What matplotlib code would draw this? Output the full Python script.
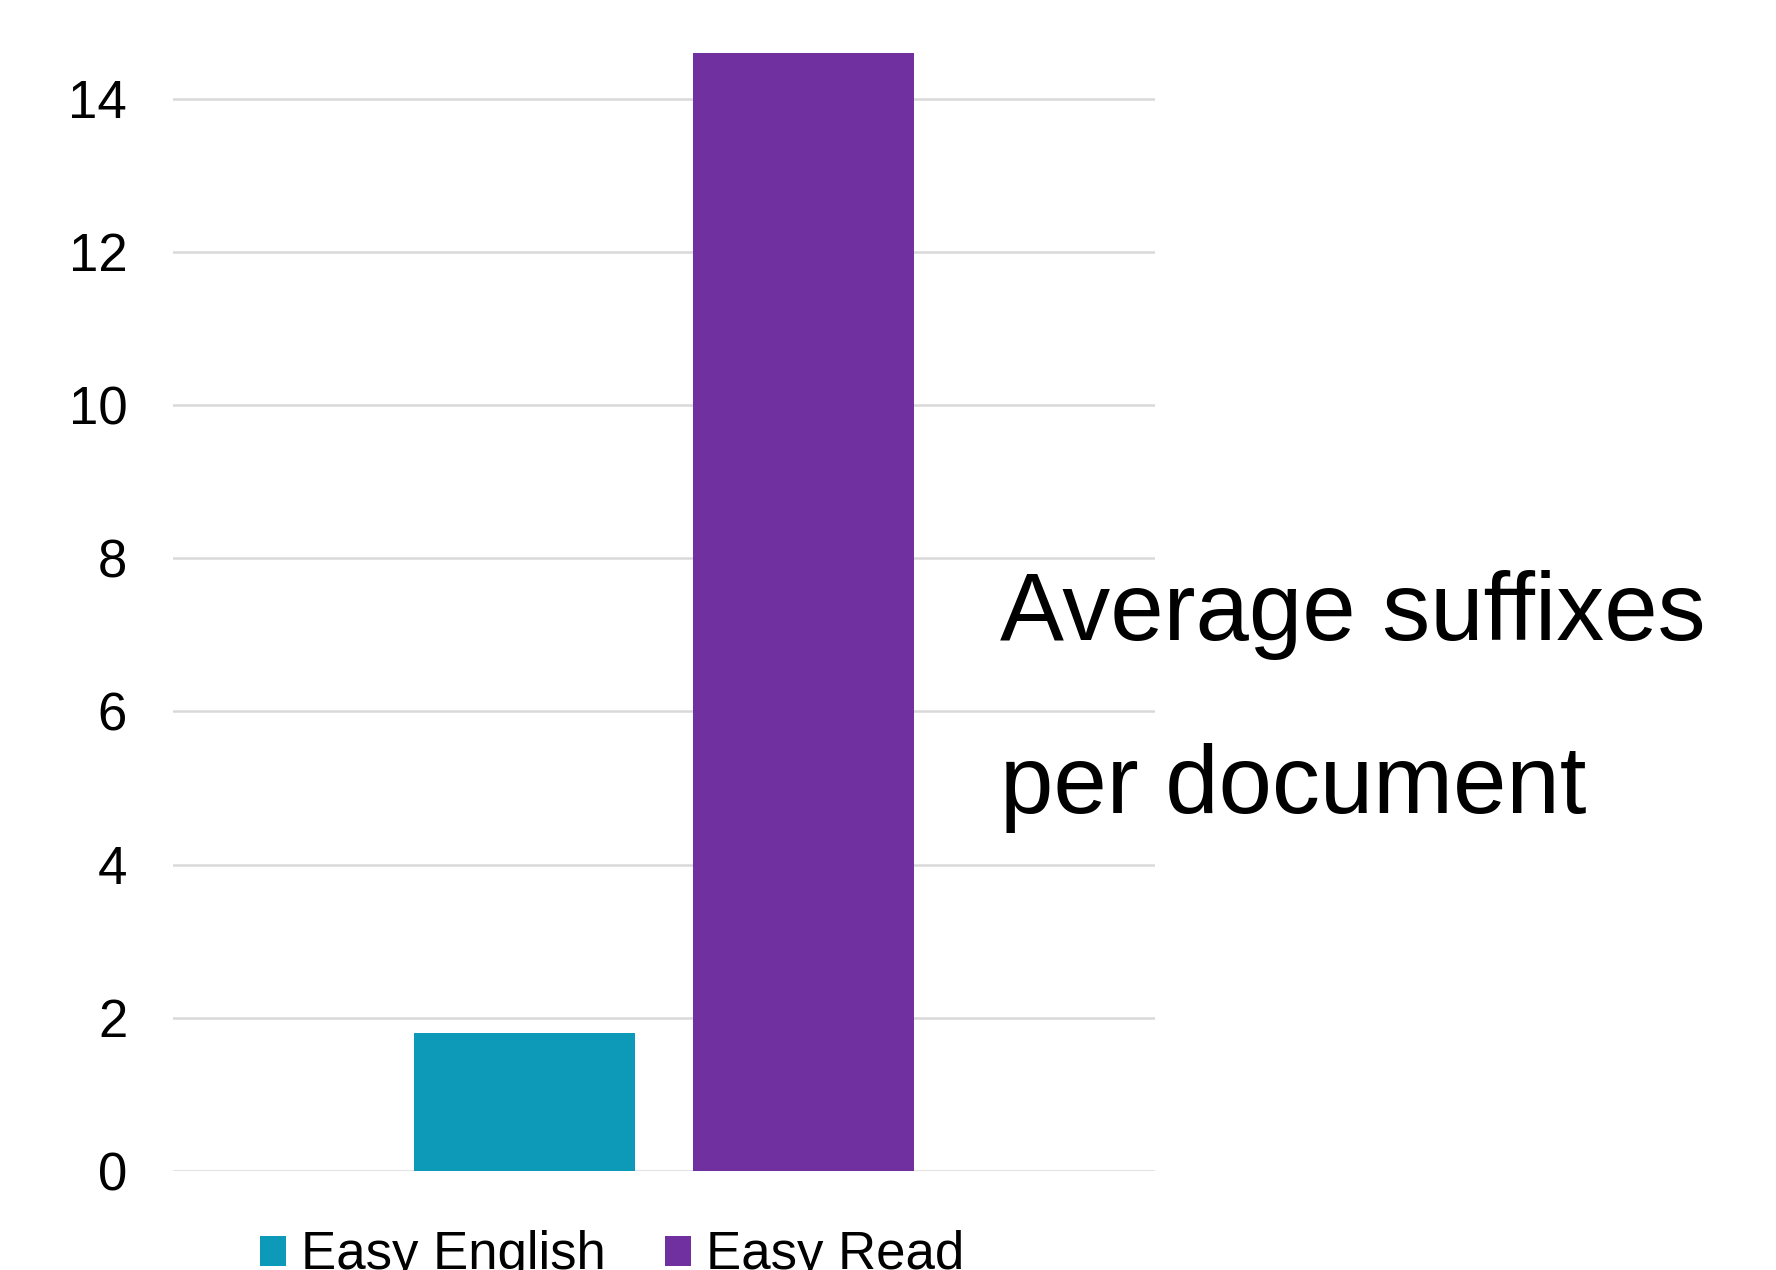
import matplotlib.pyplot as plt

plt.rcParams['font.family'] = ['Liberation Sans', 'DejaVu Sans']

# average suffix count per document
series = ['Easy English', 'Easy Read']
values = [1.8, 14.6]
colors = ['#0D9AB9', '#7030A0']
yticks = [0, 2, 4, 6, 8, 10, 12, 14]

fig = plt.figure(figsize=(17.76, 12.7), dpi=100)
ax = fig.add_axes([0.0974, 0.078, 0.5529, 0.8866])

width = 0.225
offsets = [-0.1418, 0.1418]
bars = []
for name, v, c, off in zip(series, values, colors, offsets):
    b = ax.bar(off, v, width=width, color=c, label=name, zorder=3, clip_on=False)
    bars.append(b)

ax.set_xlim(-0.5, 0.5)
ax.set_ylim(0, 14.7)
ax.set_yticks(yticks)
ax.set_xticks([])
ax.yaxis.grid(True, color='#d9d9d9', linewidth=1.8, zorder=0)
ax.tick_params(axis='y', length=0, pad=33, labelsize=38)
for s in ax.spines.values():
    s.set_visible(False)

fig.legend(handles=bars, loc='center', bbox_to_anchor=(0.3446, 0.0115), ncol=2,
           frameon=False, fontsize=38, handlelength=0.5, handleheight=0.5,
           handletextpad=0.28, columnspacing=1.13, borderpad=0, borderaxespad=0)

fig.text(0.563, 0.496, 'Average suffixes', fontsize=69, va='baseline', ha='left')
fig.text(0.563, 0.36, 'per document', fontsize=69, va='baseline', ha='left')

fig.savefig('out.png', dpi=100)
